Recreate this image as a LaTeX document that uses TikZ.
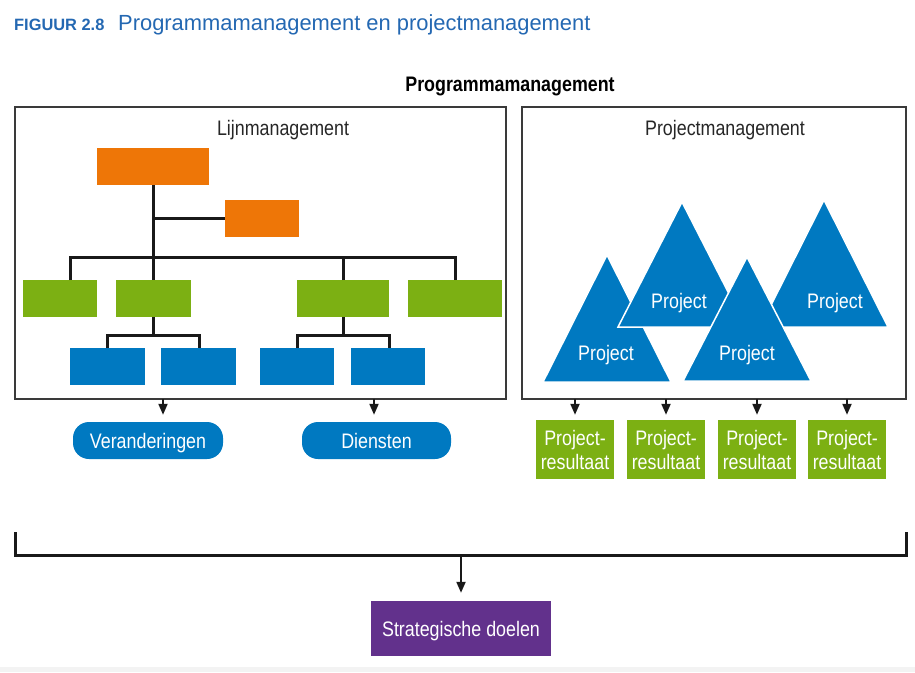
\documentclass[tikz,border=0pt]{standalone}
\usepackage{fontspec}
\setmainfont{Liberation Sans}
\newfontfamily\cond[FakeStretch=0.85]{Liberation Sans}
\usetikzlibrary{arrows.meta}
\definecolor{orng}{HTML}{EE7607}
\definecolor{grn}{HTML}{7CB013}
\definecolor{blu}{HTML}{0079C1}
\definecolor{prp}{HTML}{62318C}
\definecolor{ttl}{HTML}{2468B2}
\definecolor{frm}{HTML}{3A3A3A}
\definecolor{strip}{HTML}{F3F3F3}
\begin{document}
\begin{tikzpicture}[x=1pt,y=-1pt,
  blk/.style={inner sep=0pt, outer sep=0pt, minimum height=37pt},
  obox/.style={blk, fill=orng},
  gbox/.style={blk, fill=grn},
  bbox/.style={blk, fill=blu},
  frame/.style={draw=frm, line width=1.5pt, fill=none},
  orgline/.style={draw=black!90, line width=3pt},
  lbl/.style={font=\cond\fontsize{21}{24}\selectfont, text=black!85, inner sep=0pt},
  wlbl/.style={font=\cond\fontsize{21}{24}\selectfont, text=white, inner sep=0pt, align=center},
  slbl/.style={wlbl, text height=15pt, text depth=4pt},
  clbl/.style={wlbl, text height=15pt, text depth=0pt},
  pill/.style={fill=blu, rounded corners=16pt, minimum height=37pt, inner sep=0pt},
  resbox/.style={fill=grn, minimum width=78pt, minimum height=59pt, inner sep=0pt},
  tri/.style={fill=blu, draw=white, line width=1.5pt, line join=miter},
  arr/.style={draw=black!90, line width=2pt, -{Triangle[width=9pt,length=11pt]}},
  bracket/.style={draw=black!90, line width=3pt}
]
\useasboundingbox (0,0) rectangle (915,672);
\fill[strip] (0,667) rectangle (915,672);

% title
\node[anchor=base west, inner sep=0pt, text=ttl, font=\bfseries\fontsize{16.4}{20}\selectfont] (fig) at (14,30) {FIGUUR 2.8};
\node[anchor=base west, inner sep=0pt, text=ttl, font=\fontsize{21.9}{26}\selectfont] (title) at (118,30) {Programmamanagement en projectmanagement};

\node[anchor=base, inner sep=0pt, font=\cond\bfseries\fontsize{21}{24}\selectfont] (pm) at (510,91) {Programmamanagement};

% frames
\draw[frame] (15,107) rectangle (506,399);
\draw[frame] (522,107) rectangle (906,399);
\node[lbl, anchor=base] (lijn) at (283,135) {Lijnmanagement};
\node[lbl, anchor=base] (projm) at (725,135) {Projectmanagement};

% org chart
\node[obox, minimum width=112pt] (o1) at (153,166.5) {};
\node[obox, minimum width=74pt] (o2) at (262,218.5) {};
\node[gbox, minimum width=74pt] (g1) at (60,298.5) {};
\node[gbox, minimum width=75pt] (g2) at (153,298.5) {};
\node[gbox, minimum width=92pt] (g3) at (343,298.5) {};
\node[gbox, minimum width=94pt] (g4) at (455,298.5) {};
\node[bbox, minimum width=75pt] (b1) at (107.5,366.5) {};
\node[bbox, minimum width=75pt] (b2) at (198.5,366.5) {};
\node[bbox, minimum width=74pt] (b3) at (297,366.5) {};
\node[bbox, minimum width=74pt] (b4) at (388,366.5) {};

\draw[orgline] (o1.south) -- (g2.north);
\draw[orgline] (o1.south |- o2.west) -- (o2.west);
\draw[orgline] ([xshift=10pt]g1.north) -- ++(0,-23) -| (g4.north);
\draw[orgline] (g3.north) -- ++(0,-23);
\draw[orgline] (g2.south) -- ++(0,18);
\draw[orgline] ([xshift=-0.5pt]b1.north) -- ++(0,-13) -| ([xshift=0.5pt]b2.north);
\draw[orgline] (g3.south) -- ++(0,18);
\draw[orgline] (b3.north) -- ++(0,-13) -| ([xshift=1pt]b4.north);

% triangles
\draw[tri] (607,255) -- (543,382) -- (671,382) -- cycle;
\node[slbl] (p1) at (606,355) {Project};
\draw[tri] (682,202) -- (618,327) -- (746,327) -- cycle;
\node[slbl] (p2) at (679,303) {Project};
\draw[tri] (824,200) -- (760,327) -- (888,327) -- cycle;
\node[slbl] (p4) at (835,303) {Project};
\draw[tri] (747,257) -- (683,381) -- (811,381) -- cycle;
\node[slbl] (p3) at (747,355) {Project};

% outputs left
\node[pill, minimum width=150pt] (ver) at (148,440.5) {};
\node[clbl] at (ver.center) {Veranderingen};
\node[pill, minimum width=149pt] (die) at (376.5,440.5) {};
\node[clbl] at (die.center) {Diensten};
\coordinate (a1) at (163,399);
\coordinate (a2) at (374,399);
\draw[arr, shorten >=7pt] (a1) -- (a1 |- ver.north);
\draw[arr, shorten >=7pt] (a2) -- (a2 |- die.north);

% outputs right
\node[resbox] (r1) at (575,449.5) {};
\node[resbox] (r2) at (666,449.5) {};
\node[resbox] (r3) at (757,449.5) {};
\node[resbox] (r4) at (847,449.5) {};
\foreach \r in {r1,r2,r3,r4}{
  \node[wlbl] at (\r.center) {Project-\\resultaat};
  \coordinate (t\r) at (\r.north |- 0,399);
  \draw[arr, shorten >=5pt] (t\r) -- (\r.north);
}

% bracket
\coordinate (bl) at (15,532);
\coordinate (br) at (906,532);
\draw[bracket] (bl) -- ++(0,23) -| (br);
\node[fill=prp, minimum width=180pt, minimum height=55pt, inner sep=0pt] (goal) at (461,628.5) {};
\node[clbl] at (goal.center) {Strategische doelen};
\coordinate (bm) at (461,555);
\draw[arr, shorten >=8pt] (bm) -- (goal.north);
\end{tikzpicture}
\end{document}
